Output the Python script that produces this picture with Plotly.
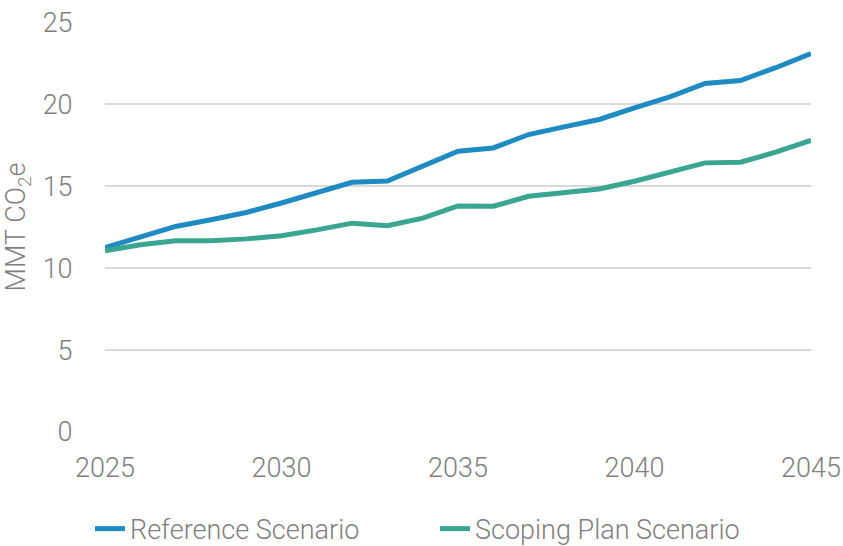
import plotly.graph_objects as go

years = list(range(2025, 2046))
reference = [11.26, 11.94, 12.55, 12.96, 13.40, 13.98, 14.59, 15.24, 15.32, 16.22, 17.14,
             17.34, 18.16, 18.63, 19.08, 19.79, 20.46, 21.28, 21.46, 22.24, 23.11]
scoping = [11.06, 11.43, 11.67, 11.67, 11.79, 11.98, 12.34, 12.75, 12.59, 13.06, 13.80,
           13.78, 14.39, 14.63, 14.84, 15.31, 15.86, 16.43, 16.47, 17.08, 17.81]
x_ticks = [2025, 2030, 2035, 2040, 2045]
y_ticks = [0, 5, 10, 15, 20, 25]

FONT = "Roboto"
GREY = "#7f7f7f"
F = dict(family=FONT, size=27, color=GREY, weight=300)

fig = go.Figure()
fig.add_trace(go.Scatter(x=years, y=reference, mode="lines", name="Reference Scenario",
                         line=dict(color="#1f8bc3", width=5)))
fig.add_trace(go.Scatter(x=years, y=scoping, mode="lines", name="Scoping Plan Scenario",
                         line=dict(color="#3aa590", width=5)))

fig.update_layout(
    width=843, height=546,
    margin=dict(l=105, r=32, t=22, b=114, autoexpand=False),
    paper_bgcolor="white", plot_bgcolor="white",
    font=F,
    xaxis=dict(range=[2025, 2045], tickvals=x_ticks, showgrid=False, zeroline=False,
               showline=False, ticks="outside", ticklen=12, tickcolor="rgba(0,0,0,0)",
               tickfont=F, automargin=False, ticklabeloverflow="allow"),
    yaxis=dict(range=[0, 25.03], tickvals=y_ticks, showgrid=True, gridcolor="#d9d9d9",
               gridwidth=1.5, zeroline=False, showline=False,
               ticks="outside", ticklen=26, tickcolor="rgba(0,0,0,0)",
               tickfont=F, automargin=False, ticklabeloverflow="allow",
               title=dict(text="MMT CO<sub>2</sub>e", standoff=14, font=F)),
    legend=dict(orientation="h", xref="container", yref="container",
                x=90 / 843, xanchor="left", y=0.031, yanchor="middle",
                font=F, itemwidth=30, tracegroupgap=0,
                entrywidth=300, entrywidthmode="pixels"),
    showlegend=True,
)

fig.write_html("out.html", config={"displayModeBar": False},
               post_script="document.body.style.margin='0';")
